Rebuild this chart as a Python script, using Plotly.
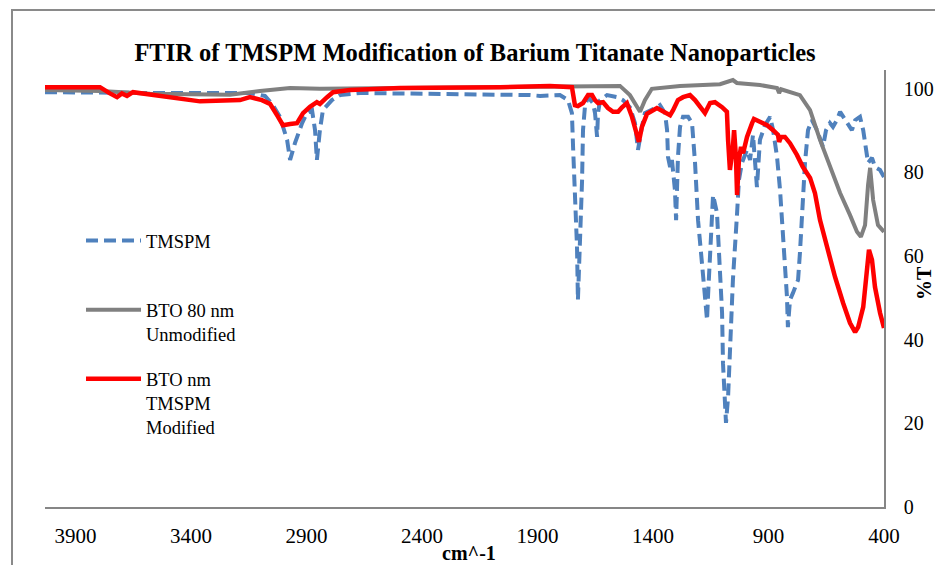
import plotly.graph_objects as go

# ---------------- data (wavenumber cm^-1, %T) ----------------
tmspm_x = [4032, 3794, 3577, 3145, 3080, 3049, 3015, 2984, 2971, 2950, 2919, 2898, 2876,
           2863, 2855, 2842, 2829, 2790, 2755, 2668, 2279, 1932, 1889, 1803, 1768, 1751,
           1746, 1738, 1729, 1725, 1716, 1707, 1703, 1694, 1681, 1660, 1651, 1642, 1638,
           1629, 1599, 1556, 1530, 1500, 1478, 1465, 1448, 1435, 1383, 1370, 1348, 1339,
           1335, 1326, 1318, 1313, 1305, 1300, 1296, 1292, 1283, 1270, 1248, 1231, 1218,
           1205, 1188, 1175, 1166, 1162, 1153, 1145, 1140, 1123, 1114, 1101, 1097, 1088,
           1084, 1075, 1067, 1054, 1036, 1028, 1015, 993, 980, 967, 950, 937, 915, 893,
           880, 863, 850, 837, 829, 820, 816, 807, 794, 772, 764, 755, 751, 742, 729, 712,
           690, 677, 664, 651, 634, 621, 604, 590, 560, 539, 525, 504, 490, 469, 452, 439,
           417, 400]
tmspm_y = [99.2, 99.0, 99.0, 99.0, 98.3, 96.4, 93.3, 87.8, 83.0, 87.0, 91.8, 94.2, 94.9,
           90.1, 83.0, 90.1, 94.9, 97.3, 98.5, 99.0, 98.8, 98.5, 98.3, 98.5, 97.3, 94.2,
           86.1, 74.1, 62.2, 49.5, 62.2, 78.2, 90.1, 96.1, 98.0, 96.6, 94.2, 88.5, 94.2,
           97.3, 98.5, 98.0, 97.3, 95.6, 91.8, 85.4, 90.9, 94.2, 95.6, 96.1, 94.2, 90.1,
           83.7, 81.3, 83.0, 79.9, 75.8, 68.6, 75.8, 83.7, 90.9, 93.3, 93.3, 91.8, 82.3,
           68.6, 58.3, 50.2, 44.7, 50.2, 62.2, 70.3, 74.6, 70.3, 58.3, 46.4, 34.4, 26.3,
           20.1, 26.3, 38.3, 54.3, 70.3, 78.2, 82.3, 85.4, 83.0, 89.0, 76.5, 87.8, 91.3, 93.3,
           90.1, 83.7, 75.8, 64.6, 58.3, 50.2, 43.0, 49.5, 51.2, 54.3, 60.7, 68.6, 75.8, 82.3, 90.1, 92.5,
           90.1, 87.8, 86.1, 90.1, 91.8, 90.9, 92.5, 94.5, 91.8, 90.1, 92.5, 93.3, 90.1, 82.3, 83.5, 81.3,
           80.6, 78.9]

bto_x = [4032, 3794, 3577, 3231, 3101, 2971, 2842, 2495, 2062, 1543, 1500, 1456, 1435, 1405,
         1283, 1110, 1054, 1037, 937, 863, 854, 846, 764, 720, 677, 634, 590, 547, 517, 500,
         482, 469, 460, 447, 426, 400]
bto_y = [99.7, 99.5, 98.8, 98.6, 99.5, 100.2, 100.0, 100.2, 100.3, 100.7, 98.5, 94.5, 97.3,
         100.0, 100.7, 101.1, 102.1, 101.4, 100.9, 100.2, 99.0, 99.9, 98.5, 94.9, 87.8, 81.3,
         75.1, 69.8, 65.8, 64.6, 67.4, 77.0, 81.1, 73.4, 67.4, 65.8]

mod_x = [4032, 3794, 3751, 3720, 3699, 3677, 3651, 3504, 3361, 3188, 3145, 3093, 3058, 3023,
         3002, 2971, 2941, 2915, 2885, 2855, 2842, 2811, 2785, 2712, 2495, 2062, 1846, 1751,
         1738, 1725, 1703, 1681, 1664, 1651, 1638, 1616, 1595, 1573, 1551, 1534, 1513, 1491,
         1469, 1461, 1448, 1426, 1383, 1348, 1326, 1313, 1292, 1270, 1240, 1218, 1188, 1175,
         1153, 1132, 1101, 1080, 1075, 1067, 1054, 1049, 1041, 1036, 1028, 1019, 1010, 993,
         971, 963, 937, 906, 880, 859, 854, 846, 829, 807, 777, 751, 720, 699, 677, 647, 612,
         577, 547, 525, 512, 490, 473, 465, 452, 439, 417, 400]
mod_y = [100.4, 100.4, 98.9, 98.0, 98.9, 98.3, 99.2, 98.0, 97.0, 97.3, 98.0, 97.3, 96.4, 93.3,
         91.3, 91.6, 91.8, 94.2, 95.7, 96.8, 96.4, 98.0, 99.2, 99.7, 100.2, 100.4, 100.7, 100.4,
         96.1, 95.9, 96.6, 98.5, 98.5, 97.3, 96.6, 96.8, 95.4, 94.5, 94.5, 95.6, 96.6, 93.3,
         89.4, 87.3, 90.9, 94.0, 95.4, 94.5, 93.7, 94.9, 97.3, 98.0, 98.5, 97.3, 95.4, 94.2,
         96.6, 96.8, 95.6, 94.5, 87.8, 80.6, 86.1, 90.1, 83.7, 74.6, 83.0, 86.1, 84.6, 88.5,
         91.8, 92.8, 92.1, 91.3, 90.1, 89.0, 87.3, 88.5, 88.5, 87.0, 84.2, 81.3, 78.7, 75.1,
         68.6, 62.2, 55.0, 48.8, 44.0, 41.8, 43.0, 47.8, 57.4, 61.5, 59.1, 52.6, 46.4, 42.8]

series_names = ["TMSPM<br>&nbsp;", "BTO 80 nm<br>Unmodified", "BTO nm<br>TMSPM<br>Modified"]
x_ticks = [3900, 3400, 2900, 2400, 1900, 1400, 900, 400]
y_ticks = [0, 20, 40, 60, 80, 100]

# ---------------- layout geometry ----------------
W, H = 935, 565
L, R, T, B = 45, 51, 70, 58
PW, PH = W - L - R, H - T - B
SERIF = "Liberation Serif"

fig = go.Figure()
fig.add_trace(go.Scatter(x=tmspm_x, y=tmspm_y, mode="lines", name=series_names[0],
                         legendgroup="a",
                         line=dict(color="#4F81BD", width=4, dash="12px,6px")))
fig.add_trace(go.Scatter(x=bto_x, y=bto_y, mode="lines", name=series_names[1],
                         legendgroup="b",
                         line=dict(color="#808080", width=4)))
fig.add_trace(go.Scatter(x=mod_x, y=mod_y, mode="lines", name=series_names[2],
                         legendgroup="c",
                         line=dict(color="#FF0000", width=4.5)))

def px_x(p):
    return (p - L) / PW

def px_y(p):
    return (H - B - p) / PH

fig.update_layout(
    width=W, height=H,
    margin=dict(l=L, r=R, t=T, b=B, autoexpand=False),
    paper_bgcolor="white", plot_bgcolor="white",
    font=dict(family=SERIF, size=20, color="black"),
    title=dict(text="<b>FTIR of TMSPM Modification of Barium Titanate Nanoparticles</b>",
               x=475 / W, xanchor="center", y=1 - 52 / H, yanchor="middle",
               font=dict(family=SERIF, size=24.5, color="black")),
    xaxis=dict(range=[4032, 400], tickvals=x_ticks, showgrid=False, zeroline=False,
               showline=True, linecolor="#868686", linewidth=1.5, ticks="",
               ticklabelstandoff=9, tickfont=dict(size=21)),
    yaxis=dict(range=[0, 104.5], tickvals=y_ticks, side="right", showgrid=False,
               zeroline=False, showline=True, linecolor="#868686", linewidth=1.5,
               ticks="", ticklabelstandoff=14, tickfont=dict(size=20)),
    showlegend=True,
    legend=dict(x=px_x(81), y=px_y(222), xanchor="left", yanchor="top",
                bgcolor="rgba(0,0,0,0)", font=dict(family=SERIF, size=18.5),
                valign="top", tracegroupgap=18, itemwidth=55),
    annotations=[
        dict(text="<b>cm^-1</b>", xref="paper", yref="paper", x=px_x(469), y=px_y(553),
             xanchor="center", yanchor="middle", showarrow=False,
             font=dict(family=SERIF, size=20)),
        dict(text="<b>%T</b>", xref="paper", yref="paper", x=px_x(924), y=px_y(283),
             xanchor="center", yanchor="middle", showarrow=False, textangle=-90,
             font=dict(family=SERIF, size=20)),
    ],
    shapes=[
        dict(type="rect", xref="paper", yref="paper", x0=px_x(12), x1=px_x(1200),
             y0=px_y(900), y1=px_y(10), line=dict(color="#8a8a8a", width=2),
             fillcolor="rgba(0,0,0,0)", layer="below"),
    ],
)

fig.write_html("out.html")
